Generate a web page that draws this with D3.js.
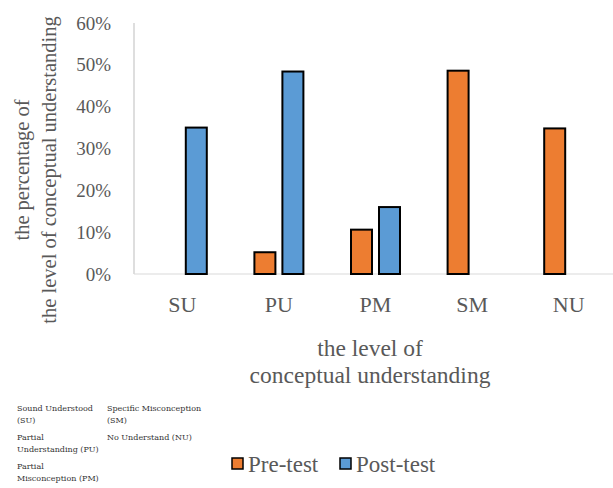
<!DOCTYPE html>
<html>
<head>
<meta charset="utf-8">
<script src="https://cdn.jsdelivr.net/npm/d3@7"></script>
<style>
  body { margin: 0; background: #fff; }
  svg { display: block; }
</style>
</head>
<body>
<script>
// chart data
var categories = ["SU", "PU", "PM", "SM", "NU"];
var seriesNames = ["Pre-test", "Post-test"];
var preTest = [0, 5.2, 10.6, 48.6, 34.8];
var postTest = [35.0, 48.4, 16.0, 0, 0];
var yTicks = [0, 10, 20, 30, 40, 50, 60];
var noteCol1 = [["Sound Understood", "(SU)"], ["Partial", "Understanding (PU)"], ["Partial", "Misconception (PM)"]];
var noteCol2 = [["Specific Misconception", "(SM)"], ["No Understand (NU)"]];

var colors = { "Pre-test": "#ed7d31", "Post-test": "#5b9bd5" };
var serif = "'Palatino Linotype', 'Book Antiqua', Palatino, 'Liberation Serif', serif";
var textColor = "#595959";

var svgWidth = 613;
var svgHeight = 488;

var margin = { top: 23, right: -4, bottom: 214, left: 134 };
var width = svgWidth - margin.left - margin.right;
var height = svgHeight - margin.top - margin.bottom;

var svg = d3.select("body")
  .append("svg")
  .attr("width", svgWidth)
  .attr("height", svgHeight);

var chartGroup = svg.append("g")
  .attr("transform", `translate(${margin.left}, ${margin.top})`);

var data = categories.map(function(c, i) {
  return { cat: c, values: [
    { name: "Pre-test", value: preTest[i] },
    { name: "Post-test", value: postTest[i] }
  ] };
});

// scales
var x0 = d3.scaleBand().domain(categories).range([0, width]);
var x1 = d3.scaleBand().domain(seriesNames)
  .range([x0.bandwidth() / 2 - 24.5, x0.bandwidth() / 2 + 24.5])
  .paddingInner(0.25);
var y = d3.scaleLinear().domain([0, 60]).range([height, 0]);

// y tick labels
chartGroup.selectAll(".ytick")
  .data(yTicks)
  .enter()
  .append("text")
  .attr("x", -23)
  .attr("y", d => y(d))
  .attr("dy", "0.35em")
  .attr("text-anchor", "end")
  .style("font-family", serif)
  .style("font-size", "19px")
  .style("fill", textColor)
  .text(d => d + "%");

// axis lines
chartGroup.append("line")
  .attr("x1", 0).attr("x2", 0)
  .attr("y1", y(60)).attr("y2", y(0))
  .attr("stroke", "#c8c8c8").attr("stroke-width", 1.2);

chartGroup.append("line")
  .attr("x1", 0).attr("x2", width)
  .attr("y1", y(0)).attr("y2", y(0))
  .attr("stroke", "#d9d9d9").attr("stroke-width", 1.2);

// bars
var groups = chartGroup.selectAll(".cat")
  .data(data)
  .enter()
  .append("g")
  .attr("transform", d => `translate(${x0(d.cat)}, 0)`);

groups.selectAll("rect")
  .data(d => d.values.filter(v => v.value > 0))
  .enter()
  .append("rect")
  .attr("x", d => x1(d.name))
  .attr("y", d => y(d.value))
  .attr("width", x1.bandwidth())
  .attr("height", d => y(0) - y(d.value))
  .attr("fill", d => colors[d.name])
  .attr("stroke", "#000")
  .attr("stroke-width", 2);

// x tick labels
chartGroup.selectAll(".xtick")
  .data(categories)
  .enter()
  .append("text")
  .attr("x", d => x0(d) + x0.bandwidth() / 2)
  .attr("y", height + 30)
  .attr("dy", "0.35em")
  .attr("text-anchor", "middle")
  .style("font-family", serif)
  .style("font-size", "22px")
  .style("fill", textColor)
  .text(d => d);

// x axis title
var xTitle = svg.append("text")
  .attr("text-anchor", "middle")
  .style("font-family", serif)
  .style("font-size", "23.5px")
  .style("fill", textColor);
xTitle.append("tspan").attr("x", 370).attr("y", 356).text("the level of");
xTitle.append("tspan").attr("x", 370).attr("y", 383).text("conceptual understanding");

// y axis title
var yTitle = svg.append("text")
  .attr("transform", "translate(0, 170) rotate(-90)")
  .attr("text-anchor", "middle")
  .style("font-family", serif)
  .style("font-size", "20.5px")
  .style("fill", textColor);
yTitle.append("tspan").attr("x", 0).attr("y", 29).text("the percentage of");
yTitle.append("tspan").attr("x", 0).attr("y", 56).text("the level of conceptual understanding");

// legend
var legend = svg.selectAll(".legend")
  .data(seriesNames)
  .enter()
  .append("g")
  .attr("transform", (d, i) => `translate(${i === 0 ? 232 : 340}, 458)`);

legend.append("rect")
  .attr("width", 11).attr("height", 11)
  .attr("fill", d => colors[d])
  .attr("stroke", "#000")
  .attr("stroke-width", 1.5);

legend.append("text")
  .attr("x", 16)
  .attr("y", 6)
  .attr("dy", "0.35em")
  .style("font-family", serif)
  .style("font-size", "23px")
  .style("fill", textColor)
  .text(d => d);

// abbreviation notes
function drawNotes(list, xPos) {
  var rowY = [411, 440, 469];
  list.forEach(function(lines, i) {
    lines.forEach(function(line, j) {
      svg.append("text")
        .attr("x", xPos)
        .attr("y", rowY[i] + j * 12)
        .style("font-family", "'DejaVu Serif', serif")
        .style("font-size", "8px")
        .style("fill", "#333")
        .text(line);
    });
  });
}
drawNotes(noteCol1, 17);
drawNotes(noteCol2, 107);
</script>
</body>
</html>
